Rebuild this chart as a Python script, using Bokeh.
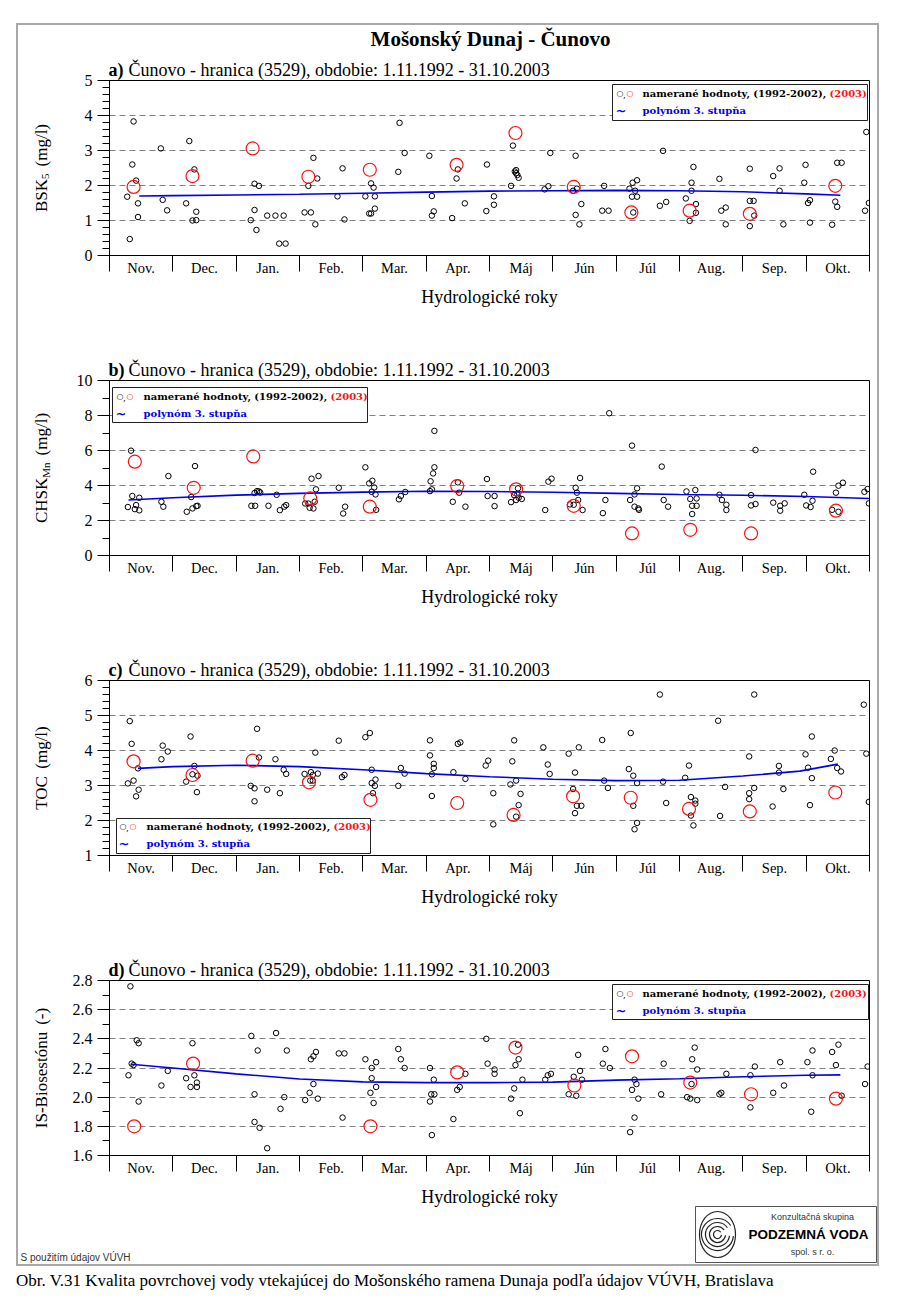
import math
from bokeh.plotting import figure
from bokeh.models import (Range1d, Label, BoxAnnotation, FixedTicker, CustomJSTickFormatter, Div)
from bokeh.layouts import column
from bokeh.embed import file_html
from bokeh.resources import INLINE
from bokeh.core.properties import value

# ---------------------------------------------------------------- data
MONTHS = ["Nov.", "Dec.", "Jan.", "Feb.", "Mar.", "Apr.", "Máj", "Jún", "Júl", "Aug.", "Sep.", "Okt."]

# a) BSK5 (mg/l) -- x = position within hydrological year in months (0 = 1 Nov)
BSK_X = [0.28, 0.32, 0.38, 0.36, 0.42, 0.45, 0.45, 0.81, 0.84, 0.91,
         1.21, 1.26, 1.34, 1.31, 1.37, 1.37,
         2.23, 2.29, 2.36, 2.29, 2.32, 2.49, 2.62, 2.75, 2.68, 2.78,
         3.08, 3.14, 3.18, 3.22, 3.25, 3.28, 3.60, 3.68, 3.71,
         4.04, 4.13, 4.17, 4.19, 4.10, 4.13, 4.19, 4.56, 4.58, 4.66,
         5.05, 5.09, 5.09, 5.12, 5.41, 5.50, 5.48, 5.61, 5.96, 5.95,
         6.07, 6.07, 6.34, 6.37, 6.40, 6.42, 6.44, 6.42, 6.46, 6.87, 6.93, 6.96,
         7.36, 7.32, 7.38, 7.45, 7.36, 7.42, 7.78, 7.88, 7.81,
         8.21, 8.26, 8.33, 8.30, 8.25, 8.33, 8.27, 8.69, 8.79, 8.74,
         9.10, 9.16, 9.19, 9.19, 9.22, 9.26, 9.26, 9.63, 9.66, 9.73, 9.73,
         10.11, 10.11, 10.17, 10.18, 10.11, 10.48, 10.58, 10.58, 10.64,
         10.99, 10.97, 11.03, 11.06, 11.06, 11.41, 11.46, 11.49, 11.49, 11.56, 11.93, 11.95, 11.99]
BSK_Y = [1.68, 0.47, 3.83, 2.60, 2.14, 1.49, 1.10, 3.06, 1.59, 1.29,
         1.49, 3.27, 2.46, 1.00, 1.25, 1.01,
         1.01, 2.05, 1.99, 1.30, 0.73, 1.14, 1.14, 1.14, 0.34, 0.34,
         1.23, 1.99, 1.23, 2.79, 0.89, 2.20, 1.69, 2.49, 1.03,
         1.69, 2.06, 1.94, 1.69, 1.20, 1.20, 1.34, 2.39, 3.79, 2.93,
         2.85, 1.70, 1.14, 1.26, 1.07, 2.46, 2.20, 1.49, 2.60, 1.27,
         1.69, 1.45, 1.99, 3.14, 2.40, 2.35, 2.30, 2.44, 2.22, 1.89, 1.98, 2.93,
         2.85, 1.85, 1.91, 1.47, 1.16, 0.89, 1.28, 1.28, 1.99,
         1.91, 2.08, 2.15, 1.85, 1.68, 1.68, 1.23, 1.42, 1.53, 2.99,
         1.63, 0.99, 2.08, 1.85, 2.53, 1.47, 1.22, 2.19, 1.28, 1.37, 0.89,
         2.48, 1.56, 1.56, 1.14, 0.84, 2.27, 2.49, 1.85, 0.89,
         2.59, 2.08, 1.50, 1.58, 0.94, 0.88, 1.54, 1.39, 2.65, 2.65, 1.28, 3.53, 1.50]
BSK_2003_X = [0.38, 1.31, 2.26, 3.14, 4.11, 5.48, 6.41, 7.33, 8.24, 9.16, 10.11, 11.46]
BSK_2003_Y = [1.96, 2.27, 3.06, 2.25, 2.45, 2.59, 3.50, 1.96, 1.23, 1.28, 1.19, 1.99]
BSK_FIT_X = [0.47, 1, 2, 3, 4, 5, 6, 7, 8, 9, 10, 11, 11.54]
BSK_FIT_Y = [1.70, 1.71, 1.73, 1.75, 1.78, 1.81, 1.84, 1.85, 1.86, 1.85, 1.82, 1.76, 1.72]

# b) CHSK_Mn (mg/l)
CHSK_X = [0.29, 0.36, 0.34, 0.40, 0.42, 0.47, 0.47, 0.82, 0.85, 0.93,
          1.22, 1.29, 1.31, 1.35, 1.37, 1.39,
          2.24, 2.30, 2.29, 2.33, 2.36, 2.38, 2.51, 2.64, 2.69, 2.76, 2.79,
          3.09, 3.14, 3.16, 3.22, 3.24, 3.26, 3.19, 3.30, 3.62, 3.69, 3.72,
          4.04, 4.10, 4.15, 4.18, 4.14, 4.20, 4.21, 4.57, 4.60, 4.67,
          5.06, 5.07, 5.09, 5.11, 5.13, 5.13, 5.42, 5.50, 5.52, 5.62, 5.96, 5.97,
          6.08, 6.08, 6.34, 6.39, 6.45, 6.42, 6.46, 6.51, 6.44, 6.88, 6.93, 6.98,
          7.27, 7.33, 7.36, 7.38, 7.40, 7.43, 7.47, 7.79, 7.83, 7.89,
          8.25, 8.22, 8.29, 8.33, 8.29, 8.35, 8.36, 8.72, 8.75, 8.82,
          9.11, 9.25, 9.17, 9.27, 9.20, 9.27, 9.20, 9.63, 9.67, 9.74, 9.74,
          10.13, 10.20, 10.13, 10.20, 10.48, 10.59, 10.66, 10.59,
          10.97, 11.00, 11.07, 11.10, 11.11, 11.41, 11.51, 11.47, 11.51, 11.58, 11.92, 11.97, 11.99]
CHSK_Y = [2.77, 3.40, 5.99, 2.65, 2.88, 2.58, 3.30, 3.07, 2.79, 4.54,
          2.50, 3.34, 2.69, 5.11, 2.82, 2.84,
          2.84, 2.84, 3.57, 3.68, 3.66, 3.60, 2.84, 3.47, 2.59, 2.79, 2.88,
          2.97, 2.97, 2.73, 2.69, 3.07, 3.78, 4.39, 4.54, 3.87, 2.40, 2.79,
          5.04, 4.12, 4.27, 3.89, 3.64, 3.49, 2.61, 3.21, 3.40, 3.63,
          3.68, 4.24, 3.78, 4.69, 5.04, 7.12, 3.07, 4.18, 3.59, 2.79, 4.37, 3.40,
          3.40, 2.82, 3.05, 3.45, 3.84, 3.17, 3.30, 3.23, 3.49, 2.60, 4.22, 4.39,
          2.92, 2.90, 3.87, 3.59, 3.17, 4.43, 2.60, 2.42, 3.17, 8.13,
          6.28, 3.17, 3.49, 3.84, 2.79, 2.69, 2.61, 5.08, 3.17, 2.79,
          3.66, 3.74, 3.23, 3.26, 2.84, 2.84, 2.37, 3.47, 3.17, 2.90, 2.60,
          3.45, 6.03, 2.86, 2.94, 3.02, 2.84, 2.98, 2.56,
          3.47, 2.86, 2.77, 3.13, 4.79, 2.61, 2.50, 3.59, 3.99, 4.16, 3.64, 3.80, 2.98]
CHSK_2003_X = [0.40, 1.33, 2.27, 3.17, 4.11, 5.49, 6.42, 7.33, 8.25, 9.17, 10.13, 11.47]
CHSK_2003_Y = [5.36, 3.87, 5.66, 3.26, 2.79, 3.97, 3.78, 2.84, 1.26, 1.47, 1.26, 2.56]
CHSK_FIT_X = [0.30, 1, 2, 3, 4, 5, 6, 7, 8, 9, 10, 11, 12]
CHSK_FIT_Y = [3.17, 3.30, 3.45, 3.55, 3.62, 3.67, 3.66, 3.61, 3.55, 3.49, 3.44, 3.37, 3.26]

# c) TOC (mg/l)
TOC_X = [0.32, 0.35, 0.45, 0.29, 0.38, 0.46, 0.42, 0.82, 0.84, 0.92,
         1.28, 1.21, 1.31, 1.34, 1.39, 1.38,
         2.33, 2.36, 2.23, 2.29, 2.29, 2.49, 2.62, 2.69, 2.75, 2.79,
         3.08, 3.17, 3.18, 3.21, 3.21, 3.25, 3.29, 3.62, 3.67, 3.71,
         4.04, 4.11, 4.14, 4.14, 4.20, 4.19, 4.16, 4.56, 4.60, 4.66,
         5.06, 5.06, 5.12, 5.12, 5.09, 5.09, 5.43, 5.50, 5.54, 5.62, 5.94, 5.98,
         6.06, 6.06, 6.33, 6.36, 6.39, 6.42, 6.42, 6.46, 6.49, 6.85, 6.92, 6.95,
         7.25, 7.41, 7.35, 7.32, 7.38, 7.45, 7.35, 7.78, 7.81, 7.87,
         8.23, 8.20, 8.27, 8.33, 8.27, 8.33, 8.29, 8.69, 8.74, 8.79,
         9.09, 9.15, 9.18, 9.25, 9.25, 9.18, 9.22, 9.61, 9.64, 9.72,
         10.10, 10.18, 10.10, 10.10, 10.18, 10.47, 10.57, 10.57, 10.64,
         10.99, 11.09, 11.03, 11.09, 11.06, 11.39, 11.45, 11.49, 11.55, 11.91, 11.95, 11.99]
TOC_Y = [4.84, 4.19, 3.49, 3.06, 3.14, 2.88, 2.69, 3.75, 4.14, 3.97,
         4.40, 3.11, 3.32, 3.56, 3.28, 2.81,
         4.62, 3.80, 2.99, 2.92, 2.55, 2.88, 3.75, 2.78, 3.45, 3.33,
         3.33, 3.14, 3.38, 3.30, 3.14, 3.94, 3.34, 4.28, 3.24, 3.30,
         4.38, 4.50, 3.45, 3.07, 3.17, 2.99, 2.78, 2.99, 3.50, 3.34,
         4.29, 3.86, 3.62, 3.50, 3.32, 2.70, 3.38, 4.19, 4.23, 3.19, 3.57, 3.71,
         2.78, 1.89, 3.03, 3.69, 4.29, 3.14, 2.11, 2.44, 2.76, 4.09, 3.60, 3.33,
         3.91, 4.09, 3.37, 2.90, 2.42, 2.42, 2.21, 4.30, 3.14, 2.93,
         4.50, 3.47, 3.28, 3.07, 2.42, 1.93, 1.75, 5.60, 3.11, 2.50,
         3.22, 3.57, 2.67, 2.57, 2.48, 2.14, 1.86, 4.85, 2.13, 2.96,
         3.83, 5.60, 2.78, 2.61, 2.93, 2.40, 3.56, 3.37, 2.90,
         3.89, 4.40, 3.51, 3.21, 2.44, 3.76, 4.00, 3.50, 3.40, 5.31, 3.91, 2.53]
TOC_2003_X = [0.38, 1.31, 2.26, 3.15, 4.12, 5.49, 6.38, 7.32, 8.23, 9.15, 10.11, 11.46]
TOC_2003_Y = [3.69, 3.30, 3.71, 3.09, 2.59, 2.50, 2.16, 2.69, 2.65, 2.33, 2.26, 2.80]
TOC_FIT_X = [0.45, 1, 2, 3, 4, 5, 6, 7, 8, 9, 10, 10.9, 11.5]
TOC_FIT_Y = [3.49, 3.54, 3.58, 3.54, 3.45, 3.34, 3.25, 3.18, 3.14, 3.15, 3.27, 3.41, 3.61]

# d) IS-Biosestónu (-)
IS_X = [0.33, 0.30, 0.35, 0.38, 0.43, 0.46, 0.46, 0.82, 0.92,
        1.31, 1.21, 1.28, 1.34, 1.38, 1.38,
        2.24, 2.34, 2.29, 2.29, 2.37, 2.49, 2.63, 2.80, 2.70, 2.76,
        3.09, 3.16, 3.22, 3.18, 3.22, 3.26, 3.29, 3.62, 3.71, 3.68,
        4.04, 4.14, 4.21, 4.14, 4.21, 4.12, 4.17, 4.56, 4.60, 4.66,
        5.06, 5.12, 5.08, 5.13, 5.06, 5.09, 5.43, 5.49, 5.53, 5.62, 5.95, 5.97,
        6.08, 6.08, 6.45, 6.46, 6.41, 6.39, 6.34, 6.48, 6.52, 6.88, 6.92, 6.97,
        7.33, 7.40, 7.43, 7.46, 7.25, 7.37, 7.79, 7.83, 7.90,
        8.29, 8.32, 8.25, 8.35, 8.29, 8.22, 8.75, 8.71,
        9.24, 9.20, 9.28, 9.19, 9.12, 9.17, 9.28, 9.74, 9.63, 9.66,
        10.12, 10.19, 10.12, 10.48, 10.59, 10.65,
        11.02, 11.10, 11.10, 11.08, 11.41, 11.51, 11.47, 11.56, 11.93, 11.97]
IS_Y = [2.76, 2.15, 2.23, 2.22, 2.39, 2.37, 1.97, 2.08, 2.18,
        2.37, 2.13, 2.07, 2.15, 2.10, 2.07,
        2.42, 2.32, 2.02, 1.83, 1.79, 1.65, 2.44, 2.32, 1.92, 2.00,
        1.98, 2.03, 2.09, 2.26, 2.28, 2.31, 1.99, 2.30, 2.30, 1.86,
        2.26, 2.20, 2.24, 2.13, 2.07, 2.03, 1.96, 2.33, 2.26, 2.20,
        2.20, 2.12, 2.02, 2.02, 1.97, 1.74, 1.85, 2.05, 2.07, 2.16, 2.40, 2.23,
        2.19, 2.16, 2.36, 2.26, 2.22, 2.06, 1.99, 1.89, 2.12, 2.12, 2.15, 2.16,
        2.14, 2.29, 2.18, 2.12, 2.02, 2.01, 2.23, 2.33, 2.20,
        2.12, 2.09, 2.05, 1.99, 1.86, 1.76, 2.23, 2.02,
        2.34, 2.26, 2.19, 2.09, 2.00, 1.99, 1.98, 2.16, 2.02, 2.03,
        2.15, 2.21, 1.93, 2.03, 2.24, 2.08,
        2.24, 2.32, 2.15, 1.90, 2.31, 2.36, 2.22, 2.01, 2.09, 2.21]
IS_2003_X = [0.39, 1.32, 4.12, 5.49, 6.41, 7.34, 8.25, 9.17, 10.13, 11.47]
IS_2003_Y = [1.80, 2.23, 1.80, 2.17, 2.34, 2.08, 2.28, 2.10, 2.02, 1.99]
IS_FIT_X = [0.34, 1, 2, 3, 4, 5, 6, 7, 8, 9, 10, 11, 11.54]
IS_FIT_Y = [2.226, 2.20, 2.16, 2.125, 2.105, 2.10, 2.10, 2.103, 2.117, 2.126, 2.14, 2.15, 2.153]

# tick positions of the value axes
BSK_TICKS = [0, 1, 2, 3, 4, 5]
CHSK_TICKS = [0, 2, 4, 6, 8, 10]
TOC_TICKS = [1, 2, 3, 4, 5, 6]
IS_TICKS = [1.6, 1.8, 2.0, 2.2, 2.4, 2.6, 2.8]

# ---------------------------------------------------------------- geometry / styling
SERIF = "Liberation Serif"
LEG_FONT = "DejaVu Serif"
RED = "#ff1010"
BLUE = "#0000ee"
FIG_W = 859
BORDER_L = 91
BORDER_R = 8
BORDER_T = 55
FRAME_H = 175
ORIG_X = 18                 # page x of the left edge of the figures
ORIG_Y = 25                 # page y of the top of the first figure
PAGE_FRAME_L = ORIG_X + BORDER_L
TOTAL_H = 1239              # figures stack from y=25 to y=1264


def lab(p, x, y, text, dx=0, dy=0, size="16px", font=SERIF, style="normal", color="black",
        align="left", baseline="middle"):
    p.add_layout(Label(x=x, y=y, x_offset=dx, y_offset=dy, text=text, text_font=font,
                       text_font_size=size, text_font_style=style, text_color=color,
                       text_align=align, text_baseline=baseline))


def make_panel(y0, y1, ticks, minor, grid, fmt, xs, ys, rx, ry, fx, fy, legend, frame_top,
               height=300):
    p = figure(width=FIG_W, height=height, x_range=Range1d(0, 12), y_range=Range1d(y0, y1),
               output_backend="svg", toolbar_location=None,
               min_border_left=BORDER_L, min_border_right=BORDER_R,
               min_border_top=BORDER_T, min_border_bottom=height - BORDER_T - FRAME_H)
    p.background_fill_color = "white"
    p.border_fill_alpha = 0
    p.outline_line_color = "black"
    p.outline_line_width = 1
    p.xgrid.visible = False
    p.ygrid.ticker = FixedTicker(ticks=grid)
    p.ygrid.grid_line_color = "#808080"
    p.ygrid.grid_line_dash = "6 4"
    p.ygrid.grid_line_width = 1

    ya = p.yaxis[0]
    ya.ticker = FixedTicker(ticks=ticks, minor_ticks=minor)
    ya.formatter = CustomJSTickFormatter(code=f"return tick.toFixed({fmt});")
    ya.axis_line_color = "black"
    ya.major_tick_line_color = "black"
    ya.minor_tick_line_color = "black"
    ya.major_tick_out = 12
    ya.major_tick_in = 0
    ya.minor_tick_out = 7
    ya.minor_tick_in = 0
    ya.major_label_text_font = SERIF
    ya.major_label_text_font_size = "16px"
    ya.major_label_text_color = "black"
    ya.major_label_standoff = 5

    xa = p.xaxis[0]
    xa.ticker = FixedTicker(ticks=[i + 0.5 for i in range(12)], minor_ticks=list(range(13)))
    xa.formatter = CustomJSTickFormatter(args=dict(names=MONTHS),
                                         code="return names[Math.floor(tick)] || '';")
    xa.axis_line_color = "black"
    xa.major_tick_out = 0
    xa.major_tick_in = 0
    xa.minor_tick_line_color = "black"
    xa.minor_tick_out = 16
    xa.minor_tick_in = 0
    xa.major_label_text_font = SERIF
    xa.major_label_text_font_size = "14.5px"
    xa.major_label_text_color = "black"
    xa.major_label_standoff = -12

    p.scatter(xs, ys, marker="circle", size=5.5, fill_color=None, line_color="black",
              line_width=1)
    p.line(fx, fy, line_color=BLUE, line_width=1.6)
    p.scatter(rx, ry, marker="circle", size=13, fill_color=None, line_color=RED,
              line_width=1.2)

    # legend (page pixel geometry -> data)
    bl, bt, br, bb, ty1, ty2, sx, tx = legend

    def dx_(px):
        return (px - PAGE_FRAME_L) / 760.0 * 12.0

    def dy_(py):
        return y1 - (py - frame_top) / FRAME_H * (y1 - y0)

    p.add_layout(BoxAnnotation(left=dx_(bl), right=dx_(br), top=dy_(bt), bottom=dy_(bb),
                               fill_color="white", fill_alpha=1.0, line_color="#222222",
                               line_width=1, line_alpha=1.0))
    ox = -PAGE_FRAME_L
    oy = frame_top
    lab(p, 0, y1, "○", dx=sx + ox, dy=oy - ty1, size="8px", font="DejaVu Sans")
    lab(p, 0, y1, ",", dx=sx + 6.5 + ox, dy=oy - ty1 - 1, size="9px", font=LEG_FONT)
    lab(p, 0, y1, "○", dx=sx + 10 + ox, dy=oy - ty1, size="8px", font="DejaVu Sans",
        color=RED)
    lab(p, 0, y1, "namerané hodnoty, (1992-2002),", dx=tx + ox, dy=oy - ty1, size="10px",
        font=LEG_FONT, style="bold")
    lab(p, 0, y1, "(2003)", dx=tx + 187 + ox, dy=oy - ty1, size="10px", font=LEG_FONT,
        style="bold", color=RED)
    lab(p, 0, y1, "~", dx=sx - 1 + ox, dy=oy - ty2, size="13px", font="DejaVu Sans",
        style="bold", color=BLUE)
    lab(p, 0, y1, "polynóm 3. stupňa", dx=tx + ox, dy=oy - ty2, size="10px", font=LEG_FONT,
        style="bold", color=BLUE)
    return p


pa = make_panel(0, 5, BSK_TICKS, [i * 0.2 for i in range(26)], [1, 2, 3, 4], 0,
                BSK_X, BSK_Y, BSK_2003_X, BSK_2003_Y, BSK_FIT_X, BSK_FIT_Y,
                (612, 84, 867, 120, 93, 110, 616, 642), 80)
pb = make_panel(0, 10, CHSK_TICKS, list(range(11)), [2, 4, 6, 8], 0,
                CHSK_X, CHSK_Y, CHSK_2003_X, CHSK_2003_Y, CHSK_FIT_X, CHSK_FIT_Y,
                (112, 387, 367, 422, 395.5, 412.5, 116, 143), 380)
pc = make_panel(1, 6, TOC_TICKS, [1 + i * 0.2 for i in range(26)], [2, 3, 4, 5], 0,
                TOC_X, TOC_Y, TOC_2003_X, TOC_2003_Y, TOC_FIT_X, TOC_FIT_Y,
                (116, 818, 370, 853, 826, 843, 119, 146), 680)
pd = make_panel(1.6, 2.8, IS_TICKS, [1.6 + i * 0.1 for i in range(13)], [1.8, 2.0, 2.2, 2.4, 2.6], 1,
                IS_X, IS_Y, IS_2003_X, IS_2003_Y, IS_FIT_X, IS_FIT_Y,
                (612, 984, 868, 1019, 993, 1010, 616, 642), 980, height=339)

# ---------------------------------------------------------------- text layer (separate root,
# drawn first at the top of the page; the panels are pulled up over it and are transparent
# outside their plot frames)
ov = figure(width=FIG_W, height=TOTAL_H, x_range=Range1d(0, FIG_W), y_range=Range1d(0, TOTAL_H),
            output_backend="svg", toolbar_location=None, x_axis_type=None, y_axis_type=None,
            min_border=0, margin=(ORIG_Y, 0, 0, ORIG_X))
ov.outline_line_color = None
ov.background_fill_color = "white"
ov.border_fill_color = "white"
ov.grid.visible = False


def X(px):
    return px - ORIG_X


def Y(py):
    return ORIG_Y + TOTAL_H - py


def txt(px, py, text, size, font=SERIF, style="normal", color="black", align="left",
        baseline="middle", angle=0.0):
    ov.text(x=[X(px)], y=[Y(py)], text=[text], text_font=value(font),
            text_font_size=value(f"{size}px"), text_font_style=style, text_color=color,
            text_align=align, text_baseline=baseline, angle=angle)


TIMES_W = {"B": 667, "S": 556, "K": 722, "C": 667, "H": 722, "T": 611, "O": 722, "I": 333,
           "-": 333, "b": 500, "i": 278, "o": 500, "s": 389, "e": 444, "t": 278, "ó": 500,
           "n": 500, "u": 500, "(": 333, ")": 333, "m": 778, "g": 500, "/": 278, "l": 278,
           " ": 250, "M": 889}


def tw(text, size):
    return sum(TIMES_W.get(c, 500) for c in text) / 1000.0 * size


def ylabel(center_y, parts, size=17, sub=11, cx=41):
    widths = []
    for t, kind in parts:
        widths.append(t if kind == "gap" else tw(t, sub if kind == "sub" else size))
    pos = center_y + sum(widths) / 2.0          # page y of the text start (bottom)
    for (t, kind), w in zip(parts, widths):
        if kind != "gap":
            txt(cx + (4 if kind == "sub" else 0), pos, t, sub if kind == "sub" else size,
                angle=math.pi / 2)
        pos -= w


# main title
txt(490, 38, "Mošonský Dunaj - Čunovo", 21, style="bold", align="center")

PERIOD = "Čunovo - hranica (3529), obdobie: 1.11.1992 - 31.10.2003"
for letter, top in [("a)", 80), ("b)", 380), ("c)", 680), ("d)", 980)]:
    txt(108, top - 11, letter, 18, style="bold")
    txt(128, top - 11, PERIOD, 18)
    txt(489, top + 216, "Hydrologické roky", 18, align="center")

ylabel(167.5, [("BSK", "n"), ("5", "sub"), (7, "gap"), ("(mg/l)", "n")])
ylabel(467.5, [("CHSK", "n"), ("Mn", "sub"), (7, "gap"), ("(mg/l)", "n")])
ylabel(767.5, [("TOC", "n"), (7, "gap"), ("(mg/l)", "n")])
ylabel(1067.5, [("IS-Biosestónu", "n"), (7, "gap"), ("(-)", "n")])

# logo box
ov.quad(left=[X(695)], right=[X(876)], bottom=[Y(1262)], top=[Y(1206)], fill_color="white",
        line_color="#555555", line_width=1)
ov.ellipse(x=[X(717)], y=[Y(1234)], width=[36], height=[46], fill_color=None,
           line_color="#222222", line_width=1.2)
for r in [4, 8, 12, 16]:
    ov.arc(x=[X(717)], y=[Y(1234)], radius=r, radius_units="screen", start_angle=0.6,
           end_angle=2 * math.pi - 0.1, line_color="#222222", line_width=1.2)
txt(812, 1216, "Konzultačná skupina", 9, font="Liberation Sans", color="#333333", align="center")
txt(808, 1234, "PODZEMNÁ VODA", 13.5, font="Liberation Sans", style="bold", align="center")
txt(812, 1251, "spol. s r. o.", 9, font="Liberation Sans", color="#333333", align="center")
txt(20, 1257, "S použitím údajov VÚVH", 10, font="Liberation Sans", color="#333333")

inner = column(pa, pb, pc, pd, margin=(23, 0, 0, 16),
               styles={"border": "2px solid #a8a8a8"})
caption = Div(text="Obr. V.31 Kvalita povrchovej vody vtekajúcej do Mošonského ramena Dunaja "
                   "podľa údajov VÚVH, Bratislava",
              width=880, height=22, margin=(3, 0, 0, 16),
              styles={"font-family": "Liberation Serif", "font-size": "17px", "color": "black",
                      "white-space": "nowrap"})
main = column(inner, caption, margin=(-(ORIG_Y + TOTAL_H), 0, 0, 0))

open("out.html", "w").write(file_html([ov, main], INLINE, title="Mošonský Dunaj - Čunovo"))
